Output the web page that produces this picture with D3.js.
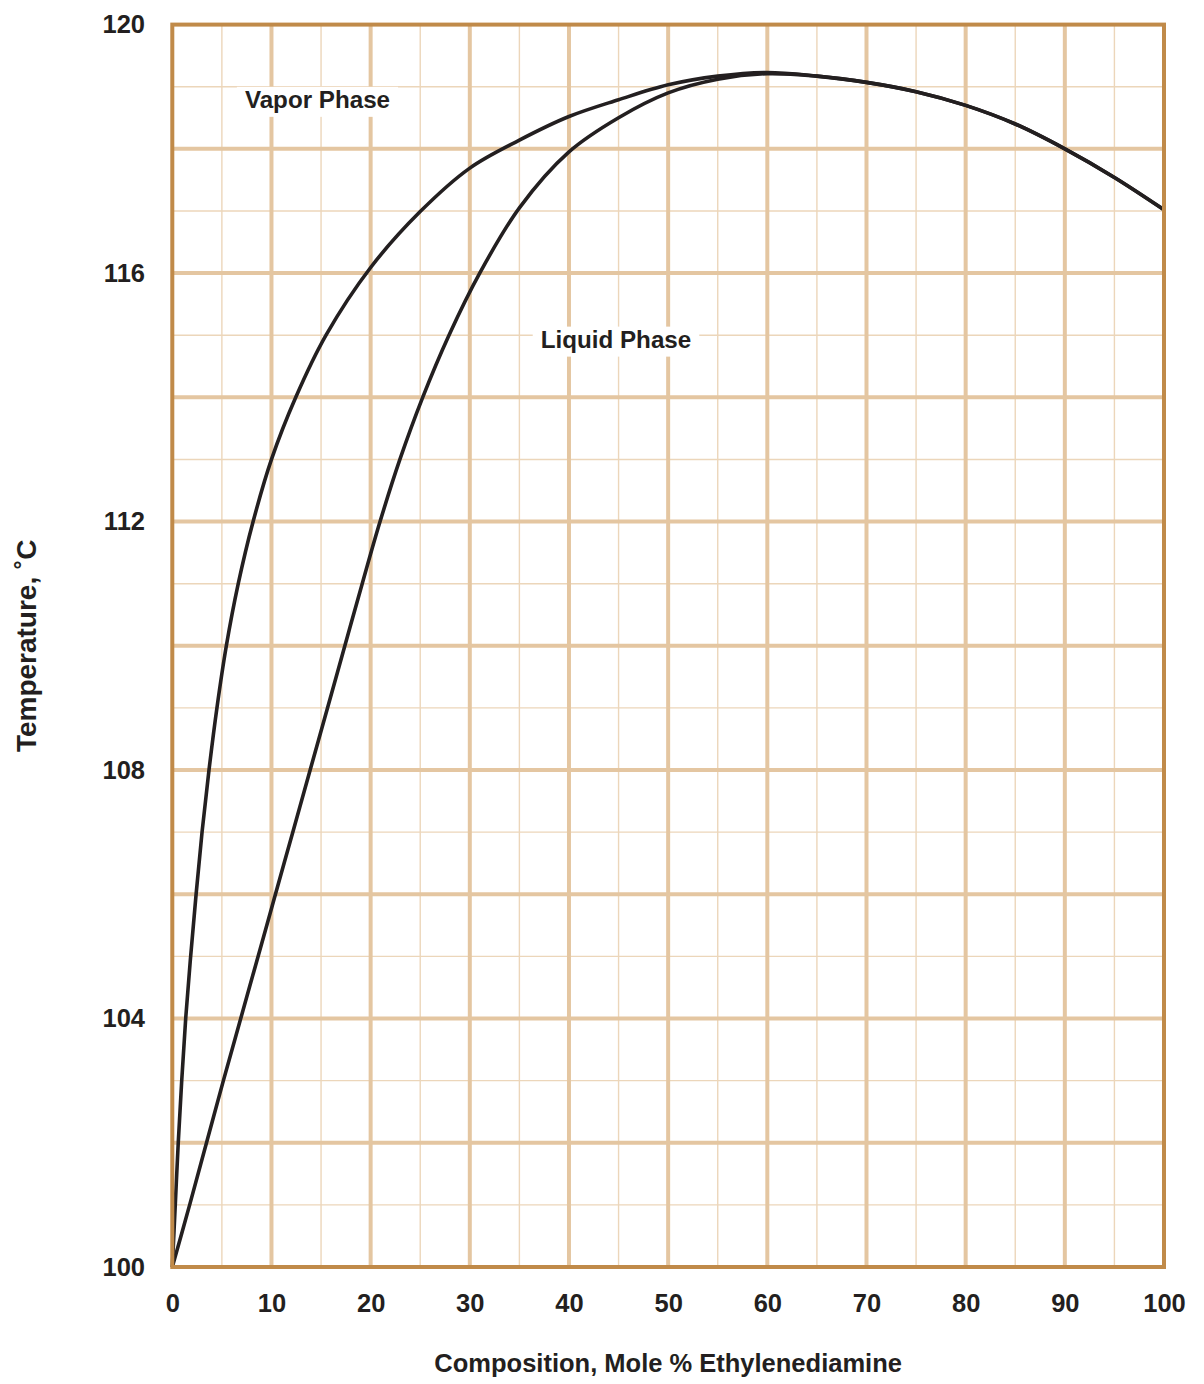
<!DOCTYPE html>
<html>
<head>
<meta charset="utf-8">
<script src="https://cdn.jsdelivr.net/npm/d3@7"></script>
<style>
  body { margin: 0; background: #fff; }
  text { font-family: "Liberation Sans", Arial, Helvetica, sans-serif; font-weight: bold; fill: #231f20; }
</style>
</head>
<body>
<div id="vis"></div>
<script>
var width = 1204,
    height = 1384;

// composition (mole % ethylenediamine) and temperature (C)
var vaporX = [0, 0.3, 0.6, 0.95, 1.35, 1.85, 2.4, 3.0, 3.7, 4.5, 5.45, 6.65, 8.15, 10, 12.45, 15.5, 20, 25, 30, 35, 40, 45, 50, 55, 60, 65, 70, 75, 80, 85, 90, 95, 100];
var vaporT = [100, 101, 102, 103, 104, 105, 106, 107, 108, 109, 110, 111, 112, 113, 114, 115, 116.09, 116.99, 117.69, 118.14, 118.52, 118.79, 119.03, 119.17, 119.23, 119.17, 119.07, 118.92, 118.7, 118.4, 118.0, 117.54, 117.02];

var liquidX = [0, 1.75, 3.45, 5.15, 6.9, 8.65, 10.4, 12.15, 13.9, 15.65, 17.4, 19.15, 20.95, 22.95, 25.25, 27.9, 31.0, 35, 40, 45, 50, 55, 60, 65, 70, 75, 80, 85, 90, 95, 100];
var liquidT = [100, 101, 102, 103, 104, 105, 106, 107, 108, 109, 110, 111, 112, 113, 114, 115, 116, 117.05, 117.95, 118.5, 118.9, 119.12, 119.21, 119.17, 119.07, 118.92, 118.7, 118.4, 118.0, 117.54, 117.02];

var xTicks = [0, 10, 20, 30, 40, 50, 60, 70, 80, 90, 100];
var yTicks = [100, 104, 108, 112, 116, 120];

var labels = [
  {text: "Vapor Phase", x: 14.64, t: 118.66},
  {text: "Liquid Phase", x: 44.74, t: 114.8}
];

var svg = d3.select("#vis").append("svg")
    .attr("width", width)
    .attr("height", height);

var x = d3.scaleLinear().domain([0, 100]).range([172.3, 1164]);
var y = d3.scaleLinear().domain([100, 120]).range([1267, 24.6]);

//--------GRID--------//
var grid = svg.append("g");

var minorX = d3.range(5, 100, 10);
var minorY = d3.range(101, 120, 2);
var majorX = d3.range(10, 100, 10);
var majorY = d3.range(102, 120, 2);

grid.selectAll(".minor-x").data(minorX).enter().append("line")
    .attr("x1", x).attr("x2", x)
    .attr("y1", y(100)).attr("y2", y(120))
    .attr("stroke", "#ecd6ba").attr("stroke-width", 1.4);

grid.selectAll(".minor-y").data(minorY).enter().append("line")
    .attr("x1", x(0)).attr("x2", x(100))
    .attr("y1", y).attr("y2", y)
    .attr("stroke", "#ecd6ba").attr("stroke-width", 1.4);

grid.selectAll(".major-x").data(majorX).enter().append("line")
    .attr("x1", x).attr("x2", x)
    .attr("y1", y(100)).attr("y2", y(120))
    .attr("stroke", "#e4c6a1").attr("stroke-width", 4);

grid.selectAll(".major-y").data(majorY).enter().append("line")
    .attr("x1", x(0)).attr("x2", x(100))
    .attr("y1", y).attr("y2", y)
    .attr("stroke", "#e4c6a1").attr("stroke-width", 4);

//--------LABELS--------//
var lab = svg.append("g").selectAll("g").data(labels).enter().append("g");

lab.append("text")
    .attr("x", function(d) { return x(d.x); })
    .attr("y", function(d) { return y(d.t); })
    .attr("text-anchor", "middle")
    .attr("font-size", 24.2)
    .text(function(d) { return d.text; });

// white box behind each label hides the grid
lab.each(function() {
    var g = d3.select(this);
    var b = g.select("text").node().getBBox();
    g.insert("rect", "text")
        .attr("x", b.x - 8)
        .attr("y", b.y + 1)
        .attr("width", b.width + 16)
        .attr("height", b.height + 3)
        .attr("fill", "#fff");
});

//--------CURVES--------//
var line = d3.line()
    .x(function(d) { return x(d[0]); })
    .y(function(d) { return y(d[1]); })
    .curve(d3.curveCatmullRom.alpha(0.5));

svg.append("path")
    .datum(d3.zip(vaporX, vaporT))
    .attr("d", line)
    .attr("fill", "none")
    .attr("stroke", "#231f20")
    .attr("stroke-width", 3.6);

svg.append("path")
    .datum(d3.zip(liquidX, liquidT))
    .attr("d", line)
    .attr("fill", "none")
    .attr("stroke", "#231f20")
    .attr("stroke-width", 3.6);

//--------FRAME--------//
svg.append("rect")
    .attr("x", x(0))
    .attr("y", y(120))
    .attr("width", x(100) - x(0))
    .attr("height", y(100) - y(120))
    .attr("fill", "none")
    .attr("stroke", "#c08a49")
    .attr("stroke-width", 4);

//--------AXES--------//
var xAxis = svg.append("g")
    .attr("transform", "translate(0," + 1312 + ")")
    .call(d3.axisBottom(x).tickValues(xTicks).tickSize(0).tickPadding(0));
xAxis.select(".domain").remove();
xAxis.selectAll("text")
    .attr("dy", 0)
    .attr("y", 0)
    .attr("font-size", 25.5)
    .attr("fill", "#231f20");

var yAxis = svg.append("g")
    .attr("transform", "translate(" + 145 + ",0)")
    .call(d3.axisLeft(y).tickValues(yTicks).tickSize(0).tickPadding(0));
yAxis.select(".domain").remove();
yAxis.selectAll("text")
    .attr("font-size", 25.5)
    .attr("fill", "#231f20");
xAxis.attr("font-family", null);
yAxis.attr("font-family", null);

svg.append("text")
    .attr("x", (x(0) + x(100)) / 2)
    .attr("y", 1372)
    .attr("text-anchor", "middle")
    .attr("font-size", 25.5)
    .text("Composition, Mole % Ethylenediamine");

svg.append("text")
    .attr("transform", "translate(" + 36 + "," + (y(100) + y(120)) / 2 + ") rotate(-90)")
    .attr("text-anchor", "middle")
    .attr("font-size", 28)
    .text("Temperature, ˚C");
</script>
</body>
</html>
